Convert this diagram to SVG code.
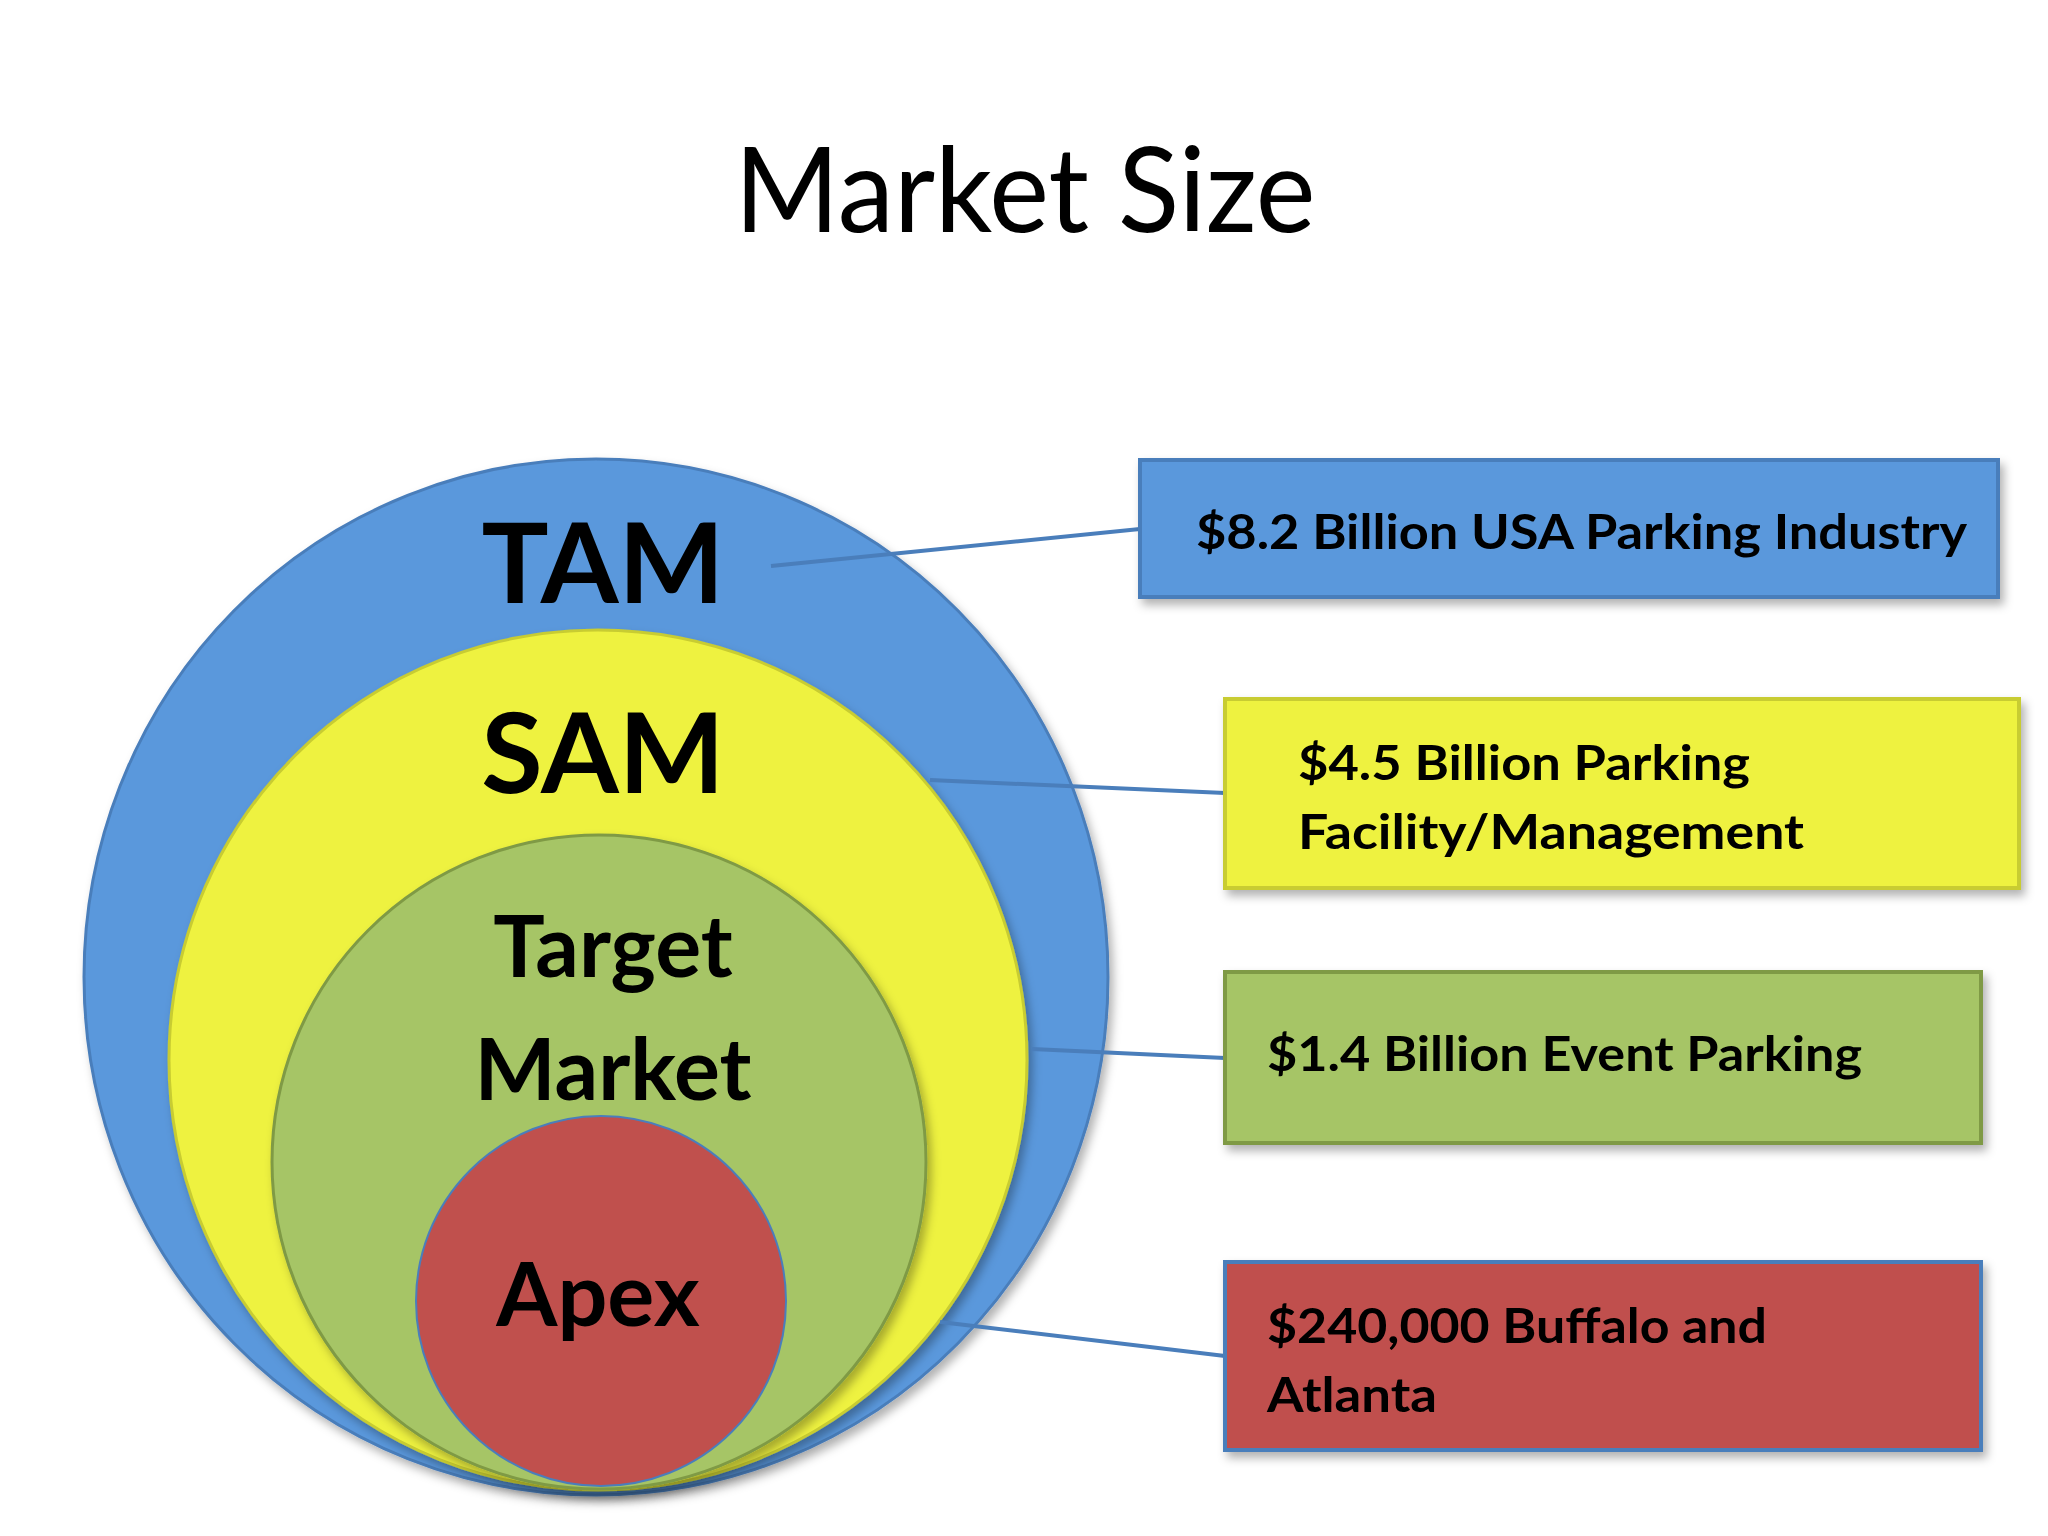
<svg xmlns="http://www.w3.org/2000/svg" width="2048" height="1536" viewBox="0 0 2048 1536">
<style>
.t{font-family:Lato,"Open Sans","Liberation Sans",sans-serif;font-weight:bold;fill:#000}
.c{text-anchor:middle}
.lbl{font-size:47px}
.con line{stroke:#4a7ebb;stroke-width:4}
</style>
<defs>
<filter id="sh" x="-10%" y="-10%" width="130%" height="130%"><feDropShadow dx="4" dy="6" stdDeviation="5" flood-color="#000" flood-opacity="0.3"/></filter>
</defs>
<rect width="2048" height="1536" fill="#fff"/>
<text x="1025" y="232" font-family="Lato,'Open Sans','Liberation Sans',sans-serif" font-size="118" text-anchor="middle" textLength="581" lengthAdjust="spacingAndGlyphs">Market Size</text>
<g id="tam-circle" filter="url(#sh)"><ellipse cx="596" cy="977" rx="512" ry="518" fill="#5a98dc" stroke="#4a7ebb" stroke-width="3"/></g>
<g id="sam-circle" filter="url(#sh)"><ellipse cx="598" cy="1060" rx="429" ry="430" fill="#eef240" stroke="#c8cc30" stroke-width="3"/></g>
<g id="target-circle" filter="url(#sh)"><circle cx="599" cy="1162" r="327" fill="#a6c566" stroke="#7f9a45" stroke-width="3"/></g>
<g id="apex-circle"><circle cx="601" cy="1301" r="185" fill="#c0504d" stroke="#4a7ebb" stroke-width="2"/></g>
<text class="t c" x="603" y="603" font-size="112">TAM</text>
<text class="t c" x="603" y="793" font-size="112">SAM</text>
<text class="t c" x="613" y="977" font-size="86">Target</text>
<text class="t c" x="613" y="1100" font-size="86">Market</text>
<text class="t c" x="598" y="1326" font-size="88">Apex</text>
<g class="con">
<line x1="771" y1="566" x2="1140" y2="529"/>
<line x1="930" y1="780" x2="1225" y2="793"/>
<line x1="1032" y1="1049" x2="1225" y2="1058"/>
<line x1="940" y1="1322" x2="1225" y2="1356"/>
</g>
<g id="box-tam" filter="url(#sh)"><rect x="1140" y="460" width="858" height="137" fill="#5a98dc" stroke="#4a7ebb" stroke-width="4"/>
<text class="t lbl" x="1196" y="549" textLength="771" lengthAdjust="spacingAndGlyphs">$8.2 Billion USA Parking Industry</text></g>
<g id="box-sam" filter="url(#sh)"><rect x="1225" y="699" width="794" height="189" fill="#eef240" stroke="#c8cc30" stroke-width="4"/>
<text class="t lbl" x="1298" y="780" textLength="452" lengthAdjust="spacingAndGlyphs">$4.5 Billion Parking</text>
<text class="t lbl" x="1298" y="849" textLength="506" lengthAdjust="spacingAndGlyphs">Facility/Management</text></g>
<g id="box-target" filter="url(#sh)"><rect x="1225" y="972" width="756" height="171" fill="#a6c566" stroke="#7f9a45" stroke-width="4"/>
<text class="t lbl" x="1267" y="1071" textLength="595" lengthAdjust="spacingAndGlyphs">$1.4 Billion Event Parking</text></g>
<g id="box-apex" filter="url(#sh)"><rect x="1225" y="1262" width="756" height="188" fill="#c0504d" stroke="#4a7ebb" stroke-width="4"/>
<text class="t lbl" x="1267" y="1343" textLength="500" lengthAdjust="spacingAndGlyphs">$240,000 Buffalo and</text>
<text class="t lbl" x="1267" y="1412" textLength="170" lengthAdjust="spacingAndGlyphs">Atlanta</text></g>
</svg>
